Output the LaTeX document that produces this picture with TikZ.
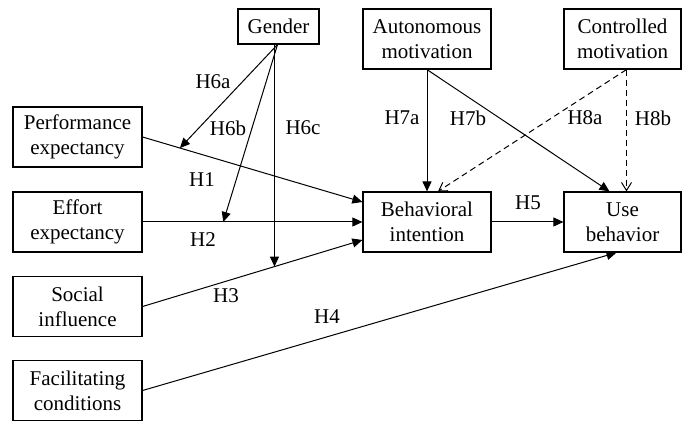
\documentclass[tikz,border=0pt]{standalone}
\usepackage{fontspec}
\setmainfont{Liberation Serif}
\usetikzlibrary{arrows.meta,positioning,calc}

\begin{document}
\begin{tikzpicture}[x=0.5pt, y=-0.5pt,
    every node/.style={font=\fontsize{10.5}{12.5}\selectfont},
    box/.style={draw, line width=0.6pt, align=center, inner sep=0pt, minimum height=30pt},
    arr/.style={-{Triangle[length=5pt,width=4.5pt]}, line width=0.5pt},
    darr/.style={-{Straight Barb[length=4pt,width=5pt]}, line width=0.5pt, dash pattern=on 3pt off 2pt},
    hlab/.style={inner sep=1pt}]

        \useasboundingbox (0,0) rectangle (682,421);

        % Predictors on the left
        \node[box, minimum width=64.5pt] (perf) at (77.5,137) {Performance\\expectancy};
        \node[box, minimum width=64.5pt] (effort) at (77.5,222) {Effort\\expectancy};
        \node[box, minimum width=64.5pt] (social) at (77.5,306.5) {Social\\influence};
        \node[box, minimum width=64.5pt] (facil) at (77.5,390.5) {Facilitating\\conditions};

        % Moderator and motivations on top
        \node[box, minimum width=40.5pt, minimum height=17.5pt] (gender) at (278.5,26.5) {Gender};
        \node[box, minimum width=64pt] (am) at (427,39) {Autonomous\\motivation};
        \node[box, minimum width=58.5pt] (cm) at (622.5,39) {Controlled\\motivation};

        % Outcomes
        \node[box, minimum width=64pt] (bi) at (427,222) {Behavioral\\intention};
        \node[box, minimum width=58.5pt] (ub) at (622.5,222) {Use\\behavior};

        % Main paths
        \draw[arr] (perf.east) -- coordinate[pos=0.17] (p6a) ([yshift=10pt]bi.west);
        \draw[arr] (effort.east) -- coordinate[pos=0.367] (p6b) (bi.west);
        \draw[arr] (social.east) -- coordinate[pos=0.6] (p6c) ([yshift=-9pt]bi.west);
        \draw[arr] (facil.east) -- ([xshift=-3pt]ub.south);
        \draw[arr] (bi.east) -- (ub.west);

        % Gender moderation
        \draw[arr] ([xshift=-0.5pt]gender.south) -- (p6a);
        \draw[arr] ([xshift=-0.5pt]gender.south) -- (p6b);
        \draw[arr] (gender.south -| p6c) -- (p6c);

        % Motivation paths
        \draw[arr] (am.south) -- (bi.north);
        \draw[arr] (am.south) -- ([xshift=-6.5pt]ub.north);
        \draw[darr] ([xshift=2pt]cm.south) -- ([xshift=5.5pt]bi.north);
        \draw[darr] ([xshift=2pt]cm.south) -- ([xshift=2pt]ub.north);

        % Hypothesis labels
        \node[hlab] (h1) at (202,180) {H1};
        \node[hlab] (h2) at (203,240) {H2};
        \node[hlab] (h3) at (226,296) {H3};
        \node[hlab] (h4) at (327,317) {H4};
        \node[hlab] (h5) at (528,203) {H5};
        \node[hlab] (h6a) at (213,82) {H6a};
        \node[hlab] (h6b) at (228,128) {H6b};
        \node[hlab] (h6c) at (303,128) {H6c};
        \node[hlab] (h7a) at (402,118) {H7a};
        \node[hlab] (h7b) at (468,118) {H7b};
        \node[hlab] (h8a) at (585,118) {H8a};
        \node[hlab] (h8b) at (653,118) {H8b};
\end{tikzpicture}
\end{document}
